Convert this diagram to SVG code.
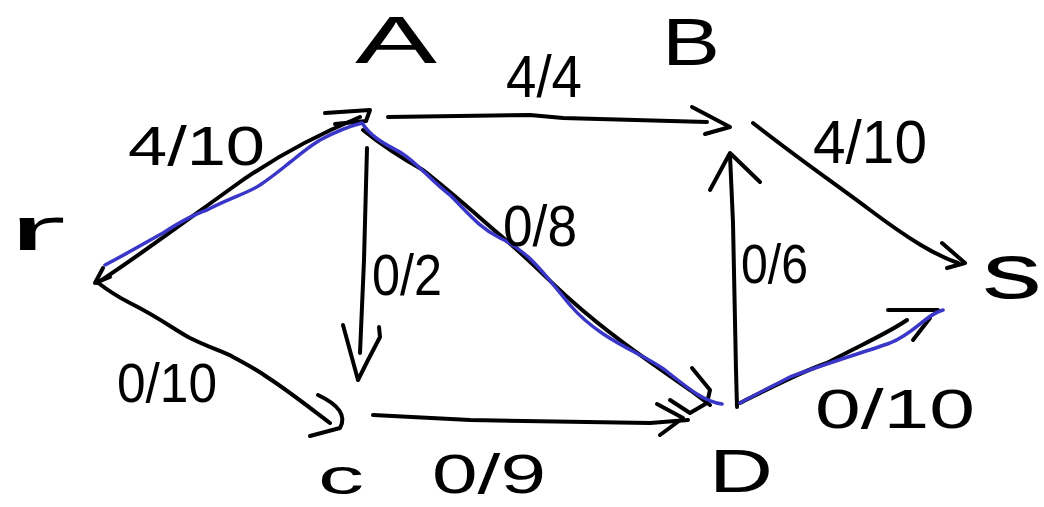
<svg xmlns="http://www.w3.org/2000/svg" width="1044" height="507" viewBox="0 0 1044 507">
<style>
.e{fill:none;stroke:#000;stroke-width:4;stroke-linecap:round;stroke-linejoin:round}
.p{fill:none;stroke:#3a36c8;stroke-width:3.5;stroke-linecap:round;stroke-linejoin:round}
.t{font-family:"Liberation Sans",Arial,sans-serif;fill:#000}
</style>
<rect width="1044" height="507" fill="#fff"/>
<g id="connectors">
  <path class="e" d="M97,283 C130,262 165,236 233,187 C262,166 300,142 360,117"/>
  <path class="e" d="M325,113 L370,110 L366,121 L335,124"/>
  <path class="e" d="M103,268 L95,283 L110,277"/>
  <path class="e" d="M97,282 C110,292 120,298 130,303 C160,318 175,330 190,338 C210,348 225,352 233,357 C250,366 260,372 267,377 C290,392 310,408 330,423"/>
  <path class="e" d="M318,395 Q350,410 340,428 L310,436"/>
  <path class="e" d="M388,117 L530,115 L563,118 L707,122"/>
  <path class="e" d="M692,107 L730,127 L705,134"/>
  <path class="e" d="M753,123 C800,160 830,180 870,210 C910,240 935,255 958,263"/>
  <path class="e" d="M942,243 L965,263 L947,268"/>
  <path class="e" d="M367,148 L364,260 L360,353"/>
  <path class="e" d="M343,325 L358,380 L367,362 L380,337 L379,327"/>
  <path class="e" d="M363,130 C385,148 405,160 423,170 C455,195 480,218 500,235 C530,260 550,282 573,302 C610,335 650,362 690,390 L710,405"/>
  <path class="e" d="M692,368 L710,390 L707,403 L690,413 L670,400"/>
  <path class="e" d="M373,415 L470,420 L650,423 L688,420"/>
  <path class="e" d="M657,404 L683,418 L660,435"/>
  <path class="e" d="M737,407 L736,370 L733,223 L730,155"/>
  <path class="e" d="M710,190 L730,153 L760,182"/>
  <path class="e" d="M740,403 C770,388 800,372 827,363 C860,345 885,335 907,320"/>
  <path class="e" d="M888,310 L938,310"/>
  <path class="e" d="M913,340 L930,318"/>
  <path class="p" d="M105,265 C130,252 150,240 163,233 C180,222 195,214 207,210 C230,198 248,193 260,185 C275,175 285,166 293,160 C305,150 312,145 320,140 C335,132 350,126 362,123"/>
  <path class="p" d="M362,123 C370,135 380,142 400,152 C420,165 430,180 450,195 C470,215 480,228 500,238 C530,252 545,275 570,305 C600,340 640,352 665,370 C690,390 705,402 722,404"/>
  <path class="p" d="M740,403 C760,392 775,385 790,377 C830,362 865,352 890,343 C915,333 925,315 943,310"/>
</g>
<g id="node-r"><text class="t" x="8" y="250" font-size="62" textLength="58" lengthAdjust="spacingAndGlyphs">r</text></g>
<g id="node-A"><text class="t" x="355" y="63" font-size="67" textLength="82" lengthAdjust="spacingAndGlyphs">A</text></g>
<g id="node-B"><text class="t" x="662" y="65" font-size="67" textLength="58" lengthAdjust="spacingAndGlyphs">B</text></g>
<g id="node-s"><text class="t" x="982" y="298" font-size="78" textLength="60" lengthAdjust="spacingAndGlyphs">s</text></g>
<g id="node-c"><text class="t" x="318" y="494" font-size="50" textLength="46" lengthAdjust="spacingAndGlyphs">c</text></g>
<g id="node-D"><text class="t" x="709" y="492" font-size="62" textLength="64" lengthAdjust="spacingAndGlyphs">D</text></g>
<g id="labels">
  <text class="t" x="128" y="165" font-size="55" textLength="137" lengthAdjust="spacingAndGlyphs">4/10</text>
  <text class="t" x="506" y="97" font-size="60" textLength="76" lengthAdjust="spacingAndGlyphs">4/4</text>
  <text class="t" x="813" y="163" font-size="62" textLength="114" lengthAdjust="spacingAndGlyphs">4/10</text>
  <text class="t" x="372" y="295" font-size="58" textLength="70" lengthAdjust="spacingAndGlyphs">0/2</text>
  <text class="t" x="503" y="246" font-size="58" textLength="74" lengthAdjust="spacingAndGlyphs">0/8</text>
  <text class="t" x="741" y="283" font-size="56" textLength="67" lengthAdjust="spacingAndGlyphs">0/6</text>
  <text class="t" x="117" y="402" font-size="55" textLength="100" lengthAdjust="spacingAndGlyphs">0/10</text>
  <text class="t" x="432" y="493" font-size="56" textLength="114" lengthAdjust="spacingAndGlyphs">0/9</text>
  <text class="t" x="815" y="428" font-size="56" textLength="160" lengthAdjust="spacingAndGlyphs">0/10</text>
</g>
</svg>
